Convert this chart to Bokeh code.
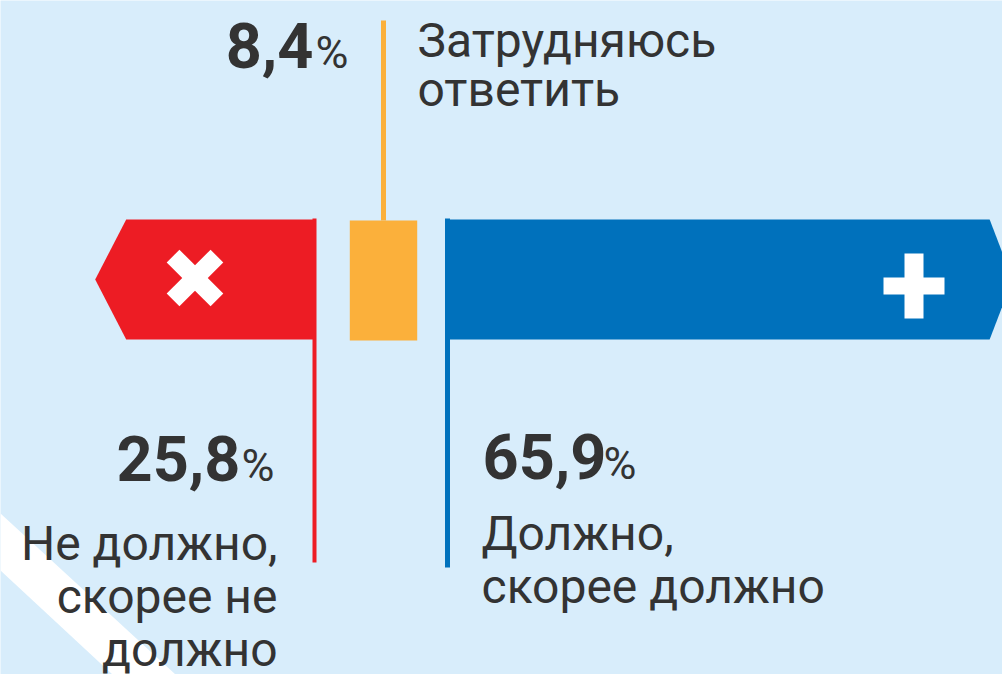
from bokeh.plotting import figure
from bokeh.models import Range1d
from bokeh.core.properties import value
from bokeh.embed import file_html
from bokeh.resources import INLINE

# ---- data ----
categories = ["Не должно, скорее не должно", "Затрудняюсь ответить", "Должно, скорее должно"]
shares = [25.8, 8.4, 65.9]
share_labels = ["25,8", "8,4", "65,9"]
label_lines_no = ["Не должно,", "скорее не", "должно"]
label_lines_hard = ["Затрудняюсь", "ответить"]
label_lines_yes = ["Должно,", "скорее должно"]
colors = ["#ed1c24", "#fbb03b", "#0071bc"]

BG = "#d8edfb"
TXT = "#333333"
FONT = value("Roboto")
PX = 8.5  # pixels per percent

W, H = 1002, 674
p = figure(width=W, height=H, output_backend="svg", toolbar_location=None,
           x_range=Range1d(0, W), y_range=Range1d(H, 0),
           background_fill_color=BG, border_fill_color=BG, min_border=0)
p.axis.visible = False
p.grid.visible = False
p.outline_line_color = None

# white diagonal stripe
p.patch([0, 175, 112, 0], [513, 674, 674, 570], color="white", line_color=None)

TOP, BOT = 219, 339
MID = (TOP + BOT) / 2

# red bar (arrow pointing left), right edge anchored at red line
red_right = 314
red_tip = red_right - shares[0] * PX
p.patch([red_tip, red_tip + 31, red_right, red_right, red_tip + 31],
        [MID, TOP, TOP, BOT, BOT], color=colors[0], line_color=None)
p.segment(x0=[red_right], y0=[TOP - 1], x1=[red_right], y1=[562], line_color=colors[0], line_width=4)

# yellow bar centred on its line
yel_c = 383
yw = shares[1] * PX
p.quad(left=[yel_c - yw / 2 + 2], right=[yel_c + yw / 2 - 2], top=[TOP + 1], bottom=[BOT + 1],
       color=colors[1], line_color=None)
p.segment(x0=[yel_c], y0=[20], x1=[yel_c], y1=[TOP + 1], line_color=colors[1], line_width=5)

# blue bar (arrow pointing right)
blue_left = 446
blue_tip = blue_left + shares[2] * PX + 6
p.patch([blue_left, blue_tip - 23, blue_tip, blue_tip - 23, blue_left],
        [TOP, TOP, MID, BOT, BOT], color=colors[2], line_color=None)
p.segment(x0=[blue_left + 1], y0=[TOP - 1], x1=[blue_left + 1], y1=[567], line_color=colors[2], line_width=5)

# icons
p.rect(x=[194.5, 194.5], y=[277.5, 277.5], width=[62, 62], height=[18, 18],
       angle=[0.785398, -0.785398], color="white", line_color=None)
p.rect(x=[913.5, 913.5], y=[285.5, 285.5], width=[61, 19], height=[17, 65],
       color="white", line_color=None)

NUM, PCT, LAB = 63, 45, 48


def base(y, fs):
    # bokeh's alphabetic anchor sits a little low; compensate
    return y - 0.4 * fs


def txt(xs, ys, texts, fs, align, bold=False):
    p.text(x=xs, y=[base(y, fs) for y in ys], text=texts, text_align=align,
           text_baseline="alphabetic", text_font=FONT,
           text_font_style="bold" if bold else "normal",
           text_font_size=f"{fs}px", text_color=TXT)


# 25,8%
txt([240], [483], [share_labels[0]], NUM, "right", True)
txt([274], [483], ["%"], PCT, "right")
# 8,4%
txt([313], [70], [share_labels[1]], NUM, "right", True)
txt([348], [70], ["%"], PCT, "right")
# 65,9%
txt([482], [481], [share_labels[2]], NUM, "left", True)
txt([603], [481], ["%"], PCT, "left")

# category labels
txt([277] * 3, [562 + i * 53 for i in range(3)], label_lines_no, LAB, "right")
txt([417] * 2, [59 + i * 49 for i in range(2)], label_lines_hard, LAB, "left")
txt([481] * 2, [552 + i * 53 for i in range(2)], label_lines_yes, LAB, "left")

open("out.html", "w").write(file_html(p, INLINE))
